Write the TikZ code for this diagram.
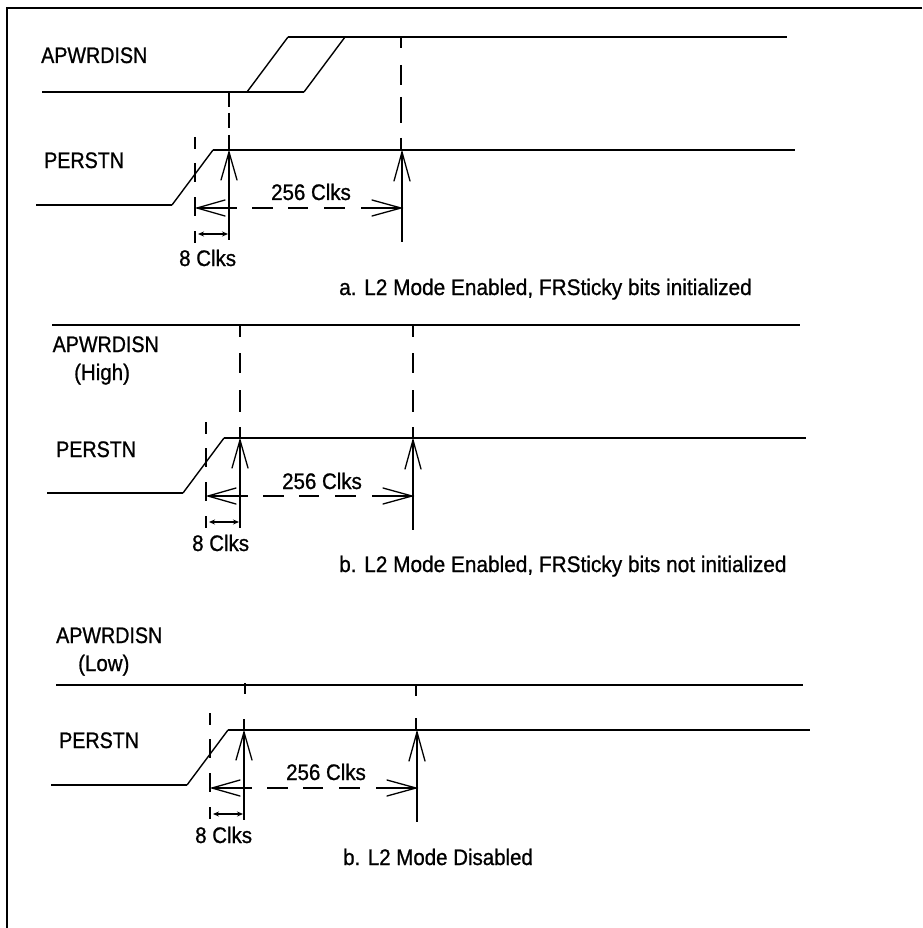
\documentclass[tikz,border=0pt]{standalone}
\usepackage{fontspec}
\setmainfont{Liberation Sans}[FakeBold=0.9,FakeStretch=0.91]
\newfontfamily\capsfont{Liberation Sans}[FakeBold=0.9,FakeStretch=0.875]
\newfontfamily\captionfont{Liberation Sans}[FakeBold=0.9,FakeStretch=0.925]
\usetikzlibrary{arrows.meta}
\tikzset{
  every node/.style={inner sep=0pt,anchor=base west,font=\fontsize{22.5}{26}\selectfont},
  siglabel/.style={font=\fontsize{22.5}{26}\capsfont},
  caplabel/.style={font=\fontsize{22.5}{26}\captionfont},
  wave/.style={line width=2.3pt},
  edge/.style={line width=1.4pt},
  bar/.style={line width=2.3pt},
  barb/.style={line width=1.3pt,line cap=round},
  mark1/.style={line width=2.3pt,dash pattern=on 12pt off 14pt on 19pt off 15pt on 19pt off 15pt on 12pt},
  span/.style={line width=2.3pt,dash pattern=on 40pt off 15pt on 21pt off 15pt on 20pt off 16pt on 21pt off 16pt on 39pt},
  short/.style={line width=1.4pt,{Stealth[length=6pt,width=5pt]}-{Stealth[length=6pt,width=5pt]}}
}
% #1 prefix, #2 right end of the high level, #3 dashed guide start
\newcommand{\resetpanel}[3]{%
  \coordinate (#1lowa) at (36,205);
  \coordinate (#1lowb) at (172,205);
  \coordinate (#1higha) at (213,150);
  \coordinate (#1highb) at (#2,150);
  \coordinate (#1gtop) at (195,#3);
  \coordinate (#1gbot) at (195,#3+106);
  \coordinate (#1upa) at (229,152);
  \coordinate (#1upab) at (229,240);
  \coordinate (#1upb) at (402,152);
  \coordinate (#1upbb) at (402,242);
  \coordinate (#1sl) at (197,208);
  \coordinate (#1sr) at (401,208);
  \draw[wave] (#1lowa) -- (#1lowb);
  \draw[edge] (#1lowb) -- (#1higha);
  \draw[wave] (#1higha) -- (#1highb);
  \draw[mark1] (#1gtop) -- (#1gbot);
  \draw[bar] (#1upa) -- (#1upab);
  \draw[bar] (#1upb) -- (#1upbb);
  \draw[barb] (221,180) -- (#1upa) -- (237,180);
  \draw[barb] (394,181) -- (#1upb) -- (410,181);
  \draw[span] (#1sl) -- (#1sr);
  \draw[barb] (225,200) -- (#1sl) -- (225,216);
  \draw[barb] (372,200) -- (#1sr) -- (372,216);
  \coordinate (#1sa) at (198,234);
  \coordinate (#1sb) at (228,234);
  \draw[short] (#1sa) -- (#1sb);
}
\begin{document}
\begin{tikzpicture}[x=1pt,y=-1pt]
\useasboundingbox (0,0) rectangle (922,928);
\coordinate (fa) at (922,8);
\coordinate (fb) at (7,8);
\coordinate (fc) at (7,928);
\draw[line width=2.3pt] (fa) -- (fb) -- (fc);

% panel a
\begin{scope}
\resetpanel{a}{795}{137}
\end{scope}
\coordinate (alo) at (42,92);
\coordinate (alob) at (304,92);
\coordinate (ahi) at (288,37);
\coordinate (ahib) at (787,37);
\coordinate (ar1) at (247,92);
\coordinate (ar2) at (345,37);
\draw[wave] (alo) -- (alob);
\draw[wave] (ahi) -- (ahib);
\draw[edge] (ar1) -- (ahi);
\draw[edge] (alob) -- (ar2);
\coordinate (ag1a) at (229,93); \coordinate (ag1b) at (229,150);
\coordinate (ag2a) at (401,37); \coordinate (ag2b) at (401,150);
\draw[line width=2.3pt,dash pattern=on 14pt off 6pt on 15pt off 7pt on 15pt] (ag1a) -- (ag1b);
\draw[line width=2.3pt,dash pattern=on 11pt off 17pt on 20pt off 12pt on 26pt off 15pt on 12pt] (ag2a) -- (ag2b);
\node[siglabel] (a1) at (41,63) {APWRDISN};
\node[siglabel] (a2) at (44,168) {PERSTN};
\node (a3) at (271,200) {256 Clks};
\node (a4) at (179,266) {8 Clks};
\node[caplabel] (a5) at (339,295) {a. L2 Mode Enabled, FRSticky bits initialized};

% panel b
\begin{scope}[shift={(11,288)}]
\resetpanel{b}{795}{134}
\end{scope}
\coordinate (bt) at (52,325);
\coordinate (btb) at (800,325);
\draw[wave] (bt) -- (btb);
\coordinate (bg1a) at (240,325); \coordinate (bg1b) at (240,438);
\coordinate (bg2a) at (413,325); \coordinate (bg2b) at (413,438);
\draw[line width=2.3pt,dash pattern=on 12pt off 16pt on 20pt off 17pt on 22pt off 15pt on 11pt] (bg1a) -- (bg1b);
\draw[line width=2.3pt,dash pattern=on 12pt off 16pt on 20pt off 17pt on 22pt off 15pt on 11pt] (bg2a) -- (bg2b);
\node[siglabel] (b1) at (52.5,352) {APWRDISN};
\node (b1h) at (74,380) {(High)};
\node[siglabel] (b2) at (56,457) {PERSTN};
\node (b3) at (282,489) {256 Clks};
\node (b4) at (192,551) {8 Clks};
\node[caplabel] (b5) at (339,572) {b. L2 Mode Enabled, FRSticky bits not initialized};

% panel c
\begin{scope}[shift={(15,580)}]
\resetpanel{c}{795}{133}
\end{scope}
\coordinate (ct) at (56,685);
\coordinate (ctb) at (803,685);
\draw[wave] (ct) -- (ctb);
\coordinate (cg1a) at (245,683); \coordinate (cg1b) at (245,694);
\coordinate (cg1c) at (244,719); \coordinate (cg1d) at (244,730);
\coordinate (cg2a) at (416,685); \coordinate (cg2b) at (416,696);
\coordinate (cg2c) at (416,718); \coordinate (cg2d) at (416,730);
\draw[line width=1.2pt] (cg1a) -- (cg1b);
\draw[line width=1.5pt] (cg1c) -- (cg1d);
\draw[line width=2.3pt] (cg2a) -- (cg2b);
\draw[line width=2.3pt] (cg2c) -- (cg2d);
\node[siglabel] (c1) at (56,643) {APWRDISN};
\node (c1h) at (78,671) {(Low)};
\node[siglabel] (c2) at (59,748) {PERSTN};
\node (c3) at (286,780) {256 Clks};
\node (c4) at (195,843) {8 Clks};
\node (c5) at (343,865) {b. L2 Mode Disabled};
\end{tikzpicture}
\end{document}
